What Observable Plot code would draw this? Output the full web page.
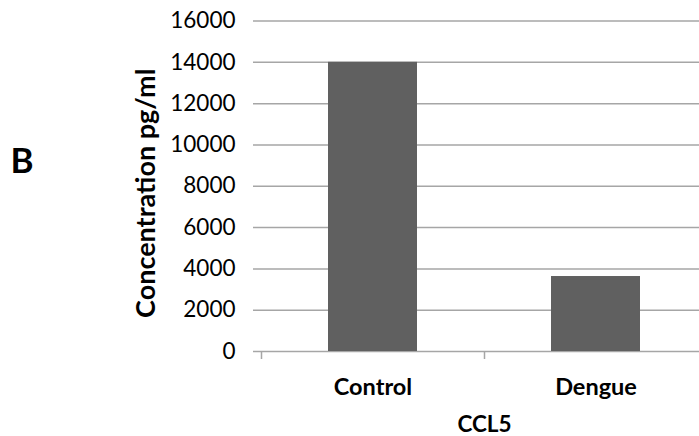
<!DOCTYPE html>
<html>
<head>
<meta charset="utf-8">
<script src="https://cdn.jsdelivr.net/npm/d3@7"></script>
<script src="https://cdn.jsdelivr.net/npm/@observablehq/plot@0.6"></script>
<style>
  html, body { margin: 0; padding: 0; background: #fff; overflow: hidden; }
</style>
</head>
<body>
<div id="wrap"></div>
<script>
const categories = ["Control", "Dengue"];
const values = [14000, 3630];
const yTicks = [0, 2000, 4000, 6000, 8000, 10000, 12000, 14000, 16000];
const xTitle = "CCL5";
const yTitle = "Concentration pg/ml";
const panelLabel = "B";

const data = categories.map((c, i) => ({category: c, value: values[i]}));
const xRange = [261, 707];
const halfStep = (xRange[1] - xRange[0]) / categories.length / 2;
const grid = "#a6a6a6";
const font = "Lato, 'Liberation Sans', sans-serif";

const chart = Plot.plot({
  width: 699,
  height: 436,
  marginLeft: 261,
  marginRight: 0,
  marginTop: 20.5,
  marginBottom: 85,
  style: {fontFamily: font, background: "#fff", color: "#000", overflow: "visible"},
  x: {domain: categories, range: xRange, paddingInner: 0.6, paddingOuter: 0.3},
  y: {domain: [0, 16000]},
  marks: [
    Plot.ruleY(yTicks, {y: d => d, stroke: grid, strokeWidth: 1.5, insetLeft: -8}),
    Plot.barY(data, {x: "category", y: "value", fill: "#606060"}),
    Plot.ruleX([0], {frameAnchor: "left", stroke: grid, strokeWidth: 1.5}),
    Plot.axisY({ticks: yTicks, tickSize: 0, tickPadding: 26, fontSize: 22.5, tickFormat: d => String(d), label: null}),
    Plot.axisX({tickSize: 8, text: null, dx: -halfStep, stroke: grid, strokeWidth: 1.5, label: null}),
    Plot.axisX({tickSize: 0, tickPadding: 27, fontSize: 23.5, fontWeight: "bold", label: null}),
    Plot.text([yTitle], {frameAnchor: "left", textAnchor: "middle", rotate: -90, dx: -115, dy: 7, fontSize: 27, fontWeight: "bold", lineAnchor: "middle", fill: "#000"}),
    Plot.text([xTitle], {frameAnchor: "bottom", textAnchor: "middle", dx: 4, dy: 80, fontSize: 22.5, fontWeight: "bold", lineAnchor: "bottom", fill: "#000"}),
    Plot.text([panelLabel], {frameAnchor: "left", textAnchor: "middle", dx: -239.5, dy: -24, fontSize: 35, fontWeight: "bold", lineAnchor: "middle", fill: "#000"})
  ]
});
document.getElementById("wrap").append(chart);
</script>
</body>
</html>
